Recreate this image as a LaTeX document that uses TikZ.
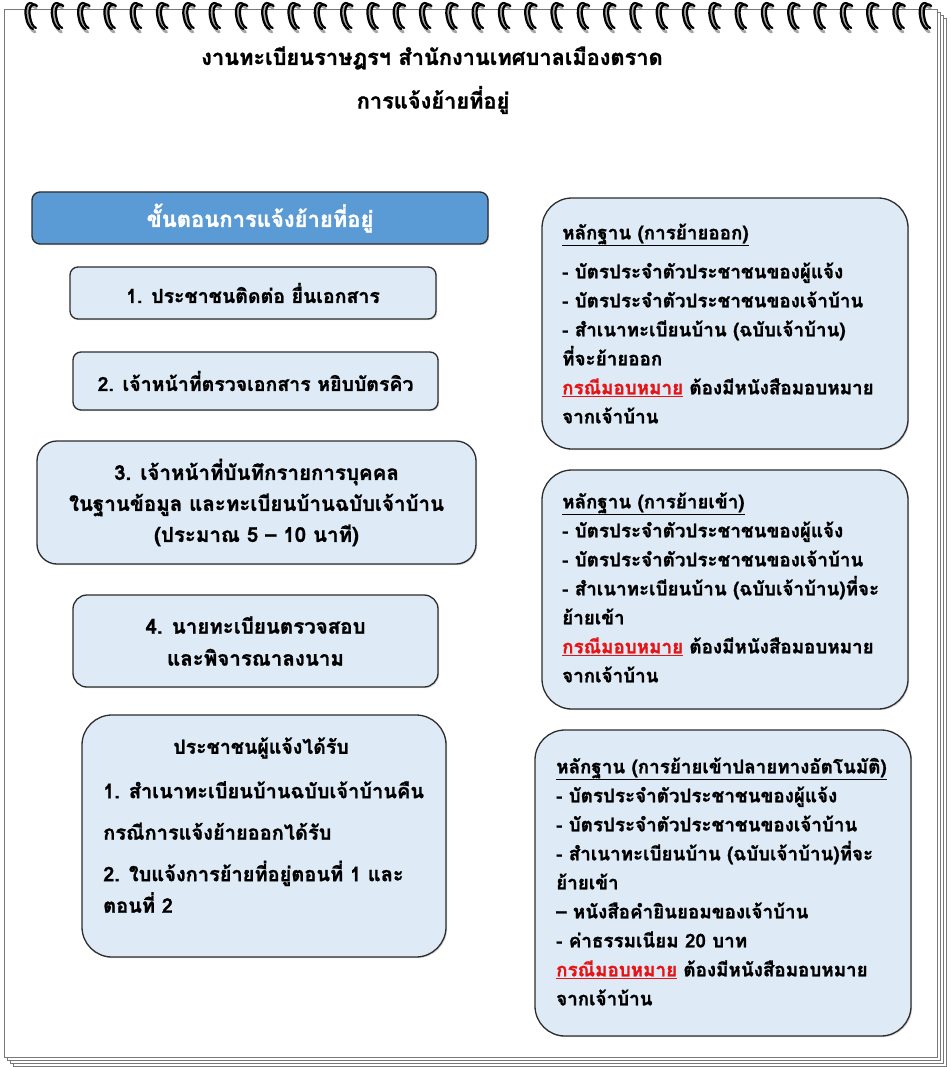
\documentclass[tikz,border=0pt]{standalone}
\usepackage{fontspec}
\setmainfont[Script=Thai, BoldFeatures={FakeBold=1.2}]{Loma}
\usetikzlibrary{shadows}

\definecolor{boxfill}{RGB}{222,235,247}
\definecolor{headfill}{RGB}{91,155,213}
\definecolor{boxedge}{RGB}{45,45,45}
\definecolor{redtxt}{RGB}{230,20,20}
\definecolor{sheetedge}{RGB}{120,120,120}

\tikzset{
  sheet/.style={draw=sheetedge, line width=0.8pt, fill=white},
  ring/.style={draw=black, line width=2.2pt, line cap=round},
  ringshade/.style={draw=black!35, line width=3pt, line cap=round},
  stepbox/.style={draw=boxedge, line width=1.3pt, fill=boxfill, rounded corners=8pt,
    drop shadow={shadow xshift=1.2pt, shadow yshift=-1.2pt, opacity=.3},
    font=\bfseries\fontsize{19.5}{31}\selectfont, align=center},
  headbox/.style={stepbox, fill=headfill, text=white, font=\bfseries\fontsize{22}{26}\selectfont},
  titletext/.style={font=\bfseries\fontsize{21.8}{26}\selectfont},
  listtext/.style={font=\bfseries\fontsize{18.8}{29}\selectfont, align=left, anchor=west, inner sep=0pt}
}

\begin{document}
\begin{tikzpicture}[x=1pt,y=-1pt]
\useasboundingbox (0,0) rectangle (950,1067);

% stacked sheets and the page
\foreach \o in {9,6,3}
  \draw[sheet] (4+\o,9+\o) rectangle (937+\o,1057+\o);
\draw[sheet] (4,9) rectangle (937,1057);

% spiral rings
\foreach \i in {0,...,34}{
  \pgfmathsetmacro\rx{27+26.3*\i}
  \draw[ringshade] (\rx+9,8) .. controls (\rx+3,2) and (\rx-1,10) .. (\rx+1,19) .. controls (\rx+2,26) and (\rx+5,31) .. (\rx+8,32);
  \draw[ring] (\rx+7,5) .. controls (\rx+1,-1) and (\rx-3,8) .. (\rx-1,17) .. controls (\rx,24) and (\rx+3,28) .. (\rx+6,29);
  \draw[ring] (\rx+10,6) .. controls (\rx+5,1) and (\rx+1,8) .. (\rx+3,17) .. controls (\rx+4,23) and (\rx+6,27) .. (\rx+9,28);
}

% titles
\node[titletext] (title) at (432,58) {งานทะเบียนราษฎรฯ สำนักงานเทศบาลเมืองตราด};
\node[titletext] (subtitle) at (433,100) {การแจ้งย้ายที่อยู่};

% steps
\node[headbox, minimum width=456pt, minimum height=52pt] (head) at (260,218) {ขั้นตอนการแจ้งย้ายที่อยู่};
\node[stepbox, minimum width=366pt, minimum height=52pt] (step1) at (253,293) {1. ประชาชนติดต่อ ยื่นเอกสาร};
\node[stepbox, minimum width=365pt, minimum height=58pt] (step2) at (255.5,381) {2. เจ้าหน้าที่ตรวจเอกสาร หยิบบัตรคิว};
\node[stepbox, rounded corners=20pt, minimum width=439pt, minimum height=123pt,
  font=\bfseries\fontsize{20.5}{31}\selectfont] (step3) at (256.5,502.5)
  {3. เจ้าหน้าที่บันทึกรายการบุคคล\\ในฐานข้อมูล และทะเบียนบ้านฉบับเจ้าบ้าน\\(ประมาณ 5 – 10 นาที)};
\node[stepbox, rounded corners=14pt, minimum width=365pt, minimum height=92pt,
  font=\bfseries\fontsize{20.5}{32}\selectfont] (step4) at (255.5,641)
  {4. นายทะเบียนตรวจสอบ\\และพิจารณาลงนาม};

% what the citizen receives
\node[stepbox, rounded corners=30pt, minimum width=364pt, minimum height=242pt] (recv) at (264,836) {};
\node[listtext, anchor=center, font=\bfseries\fontsize{19.5}{29}\selectfont] (recvhead) at (261,748) {ประชาชนผู้แจ้งได้รับ};
\node[listtext, font=\bfseries\fontsize{20}{41.5}\selectfont] (recvlist) at (103,847)
  {1. สำเนาทะเบียนบ้านฉบับเจ้าบ้านคืน\\กรณีการแจ้งย้ายออกได้รับ\\2. ใบแจ้งการย้ายที่อยู่ตอนที่ 1 และ\\[-10pt]ตอนที่ 2};

% documents needed
\node[stepbox, rounded corners=30pt, minimum width=366pt, minimum height=251pt] (outbox) at (725,323.5) {};
\node[listtext] (outlist) at (562,323.5)
  {\underline{หลักฐาน (การย้ายออก)}\\[10pt]
   - บัตรประจำตัวประชาชนของผู้แจ้ง\\
   - บัตรประจำตัวประชาชนของเจ้าบ้าน\\
   - สำเนาทะเบียนบ้าน (ฉบับเจ้าบ้าน)\\
   ที่จะย้ายออก\\
   \textcolor{redtxt}{\underline{กรณีมอบหมาย}} ต้องมีหนังสือมอบหมาย\\
   จากเจ้าบ้าน};

\node[stepbox, rounded corners=30pt, minimum width=366pt, minimum height=239pt] (inbox) at (725,589.5) {};
\node[listtext] (inlist) at (562,587.5)
  {\underline{หลักฐาน (การย้ายเข้า)}\\
   - บัตรประจำตัวประชาชนของผู้แจ้ง\\
   - บัตรประจำตัวประชาชนของเจ้าบ้าน\\
   - สำเนาทะเบียนบ้าน (ฉบับเจ้าบ้าน)ที่จะ\\
   ย้ายเข้า\\
   \textcolor{redtxt}{\underline{กรณีมอบหมาย}} ต้องมีหนังสือมอบหมาย\\
   จากเจ้าบ้าน};

\node[stepbox, rounded corners=30pt, minimum width=376pt, minimum height=306pt] (autobox) at (723,883) {};
\node[listtext] (autolist) at (556,881.5)
  {\underline{หลักฐาน (การย้ายเข้าปลายทางอัตโนมัติ)}\\
   - บัตรประจำตัวประชาชนของผู้แจ้ง\\
   - บัตรประจำตัวประชาชนของเจ้าบ้าน\\
   - สำเนาทะเบียนบ้าน (ฉบับเจ้าบ้าน)ที่จะ\\
   ย้ายเข้า\\
   – หนังสือคำยินยอมของเจ้าบ้าน\\
   - ค่าธรรมเนียม 20 บาท\\
   \textcolor{redtxt}{\underline{กรณีมอบหมาย}} ต้องมีหนังสือมอบหมาย\\
   จากเจ้าบ้าน};
\end{tikzpicture}
\end{document}
